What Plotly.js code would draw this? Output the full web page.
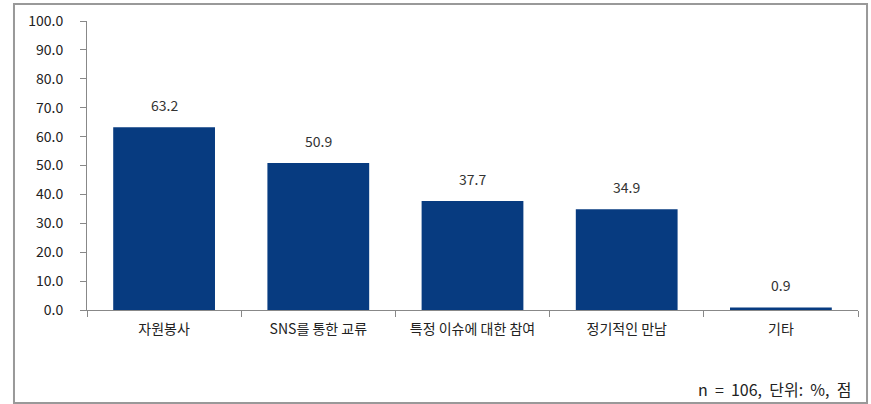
<!DOCTYPE html>
<html>
<head>
<meta charset="utf-8">
<script src="https://cdn.plot.ly/plotly-3.0.1.min.js"></script>
<style>html,body{margin:0;padding:0;background:#fff;}#chart{width:871px;height:404px;}</style>
</head>
<body>
<div id="chart"></div>
<script>
const categories = ["자원봉사", "SNS를 통한 교류", "특정 이슈에 대한 참여", "정기적인 만남", "기타"];
const values = [63.2, 50.9, 37.7, 34.9, 0.9];
const labels = ["63.2", "50.9", "37.7", "34.9", "0.9"];
const note = "n = 106, 단위: %, 점";

const font = "'Noto Sans CJK KR', 'Noto Sans', sans-serif";

const trace = {
  type: "bar",
  x: categories,
  y: values,
  marker: {color: "#073B80"},
  hoverinfo: "none"
};

const valueAnnotations = categories.map((c, i) => ({
  x: c, y: values[i], xref: "x", yref: "y",
  text: labels[i], showarrow: false,
  xanchor: "center", yanchor: "bottom", yshift: 10,
  font: {family: font, size: 14, color: "#333"}
}));

const layout = {
  width: 871, height: 404,
  margin: {l: 87, r: 13, t: 21, b: 94},
  paper_bgcolor: "#fff", plot_bgcolor: "#fff",
  bargap: 0.34,
  showlegend: false,
  font: {family: font, size: 14, color: "#222"},
  xaxis: {
    showline: true, linecolor: "#888", linewidth: 1,
    ticks: "outside", ticklen: 6, tickcolor: "#888",
    tickson: "boundaries",
    ticklabelstandoff: 6,
    tickfont: {family: font, size: 14, color: "#222"},
    showgrid: false, zeroline: false, fixedrange: true
  },
  yaxis: {
    range: [0, 100], dtick: 10, tick0: 0, tickformat: ".1f",
    showline: true, linecolor: "#888", linewidth: 1,
    ticks: "outside", ticklen: 6, tickcolor: "#888",
    ticklabelstandoff: 14,
    tickfont: {family: font, size: 14, color: "#222"},
    showgrid: false, zeroline: false, fixedrange: true
  },
  shapes: [{
    type: "rect", xref: "paper", yref: "paper",
    x0: -0.0947, x1: 1.0117, y0: -0.322, y1: 1.0588,
    line: {color: "#999", width: 2}, fillcolor: "rgba(0,0,0,0)"
  }],
  annotations: valueAnnotations.concat([{
    xref: "paper", yref: "paper", x: 0.9935, y: -0.275,
    xanchor: "right", yanchor: "middle", showarrow: false,
    text: note.replace(/ /g, "\u00a0\u00a0"), font: {family: font, size: 16, color: "#222"}
  }])
};

Plotly.newPlot("chart", [trace], layout, {displayModeBar: false, staticPlot: true});
</script>
</body>
</html>
